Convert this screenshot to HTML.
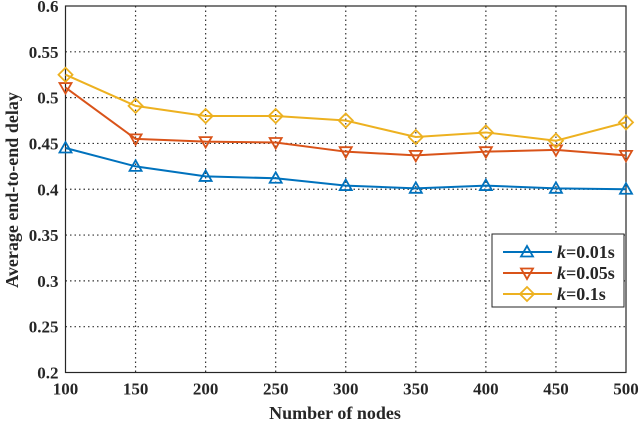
<!DOCTYPE html>
<html><head><meta charset="utf-8"><style>
body{margin:0;background:#fff;}
svg text{font-family:"Liberation Serif",serif;font-weight:bold;fill:#262626;}
</style></head><body>
<svg id="chart" width="640" height="424">
<g id="grid"></g>
<g id="axes"></g>
<g id="series"></g>
<text x="335" y="419" text-anchor="middle" font-size="18">Number of nodes</text>
<text transform="translate(18,190) rotate(-90)" text-anchor="middle" font-size="18">Average end-to-end delay</text>
<g id="legend"></g>
</svg>
<script>
const categories=[100,150,200,250,300,350,400,450,500];
const seriesA=[0.445,0.425,0.414,0.412,0.404,0.401,0.404,0.401,0.400];
const seriesB=[0.511,0.455,0.452,0.451,0.441,0.437,0.441,0.443,0.437];
const seriesC=[0.525,0.491,0.480,0.480,0.475,0.457,0.462,0.453,0.473];
const yTicks=[0.2,0.25,0.3,0.35,0.4,0.45,0.5,0.55,0.6];
const yTickLabels=["0.2","0.25","0.3","0.35","0.4","0.45","0.5","0.55","0.6"];
const seriesNames=["0.01s","0.05s","0.1s"];
const NS="http://www.w3.org/2000/svg";
const L=65.5,R=626,T=6,B=372.5;
const xs=v=>L+(v-100)/400*(R-L);
const ys=v=>B-(v-0.2)/0.4*(B-T);
function mk(tag,attrs,parent){const e=document.createElementNS(NS,tag);for(const k in attrs)e.setAttribute(k,attrs[k]);parent.appendChild(e);return e;}
const grid=document.getElementById('grid'),axes=document.getElementById('axes'),ser=document.getElementById('series'),leg=document.getElementById('legend');
categories.forEach(c=>{
 const x=xs(c);
 if(c!==100&&c!==500){const g=mk('line',{x1:x,x2:x,y1:T,y2:B,stroke:'#333','stroke-width':1.2,'stroke-dasharray':'1.5,3'},grid);
 
 }
 const t=mk('text',{x:x,y:B+22,'text-anchor':'middle','font-size':17},axes);t.textContent=c;
 
 
});
yTicks.forEach((v,i)=>{
 const y=ys(v);
 if(i>0&&i<yTicks.length-1){const g=mk('line',{x1:L,x2:R,y1:y,y2:y,stroke:'#333','stroke-width':1.2,'stroke-dasharray':'1.5,3'},grid);
 
 }
 const t=mk('text',{x:L-7,y:y+6,'text-anchor':'end','font-size':17},axes);t.textContent=yTickLabels[i];
 
 
});
const frame=mk('rect',{x:L,y:T,width:R-L,height:B-T,fill:'none',stroke:'#262626','stroke-width':1.2},axes);


function marker(type,x,y,color,parent){
 let d;
 if(type==='up')d=`M${x},${y-6} L${x+6},${y+4.5} L${x-6},${y+4.5}Z`;
 else if(type==='down')d=`M${x},${y+6} L${x+6},${y-4.5} L${x-6},${y-4.5}Z`;
 else d=`M${x},${y-7} L${x+7},${y} L${x},${y+7} L${x-7},${y}Z`;
 return mk('path',{d:d,fill:'none',stroke:color,'stroke-width':1.8},parent);
}
const defs=[[seriesA,'#0072BD','up'],[seriesB,'#D95319','down'],[seriesC,'#EDB120','diamond']];
defs.forEach(([data,color,type],si)=>{
 const pts=data.map((v,i)=>xs(categories[i])+','+ys(v)).join(' ');
 const pl=mk('polyline',{points:pts,fill:'none',stroke:color,'stroke-width':2},ser);
 
 
 data.forEach((v,i)=>{const m=marker(type,xs(categories[i]),ys(v),color,ser);
 
 });
});
const lb=mk('rect',{x:492,y:234,width:132,height:73,fill:'#fff',stroke:'#262626','stroke-width':1},leg);


defs.forEach(([data,color,type],si)=>{
 const y=252+si*21;
 const l=mk('line',{x1:503,x2:552,y1:y,y2:y,stroke:color,'stroke-width':2},leg);
 
 
 marker(type,527,y,color,leg);
 const t=mk('text',{x:557,y:y+6,'font-size':18},leg);
 t.innerHTML='<tspan font-style="italic">k</tspan>='+seriesNames[si];
 
 
});
</script>
</body></html>
